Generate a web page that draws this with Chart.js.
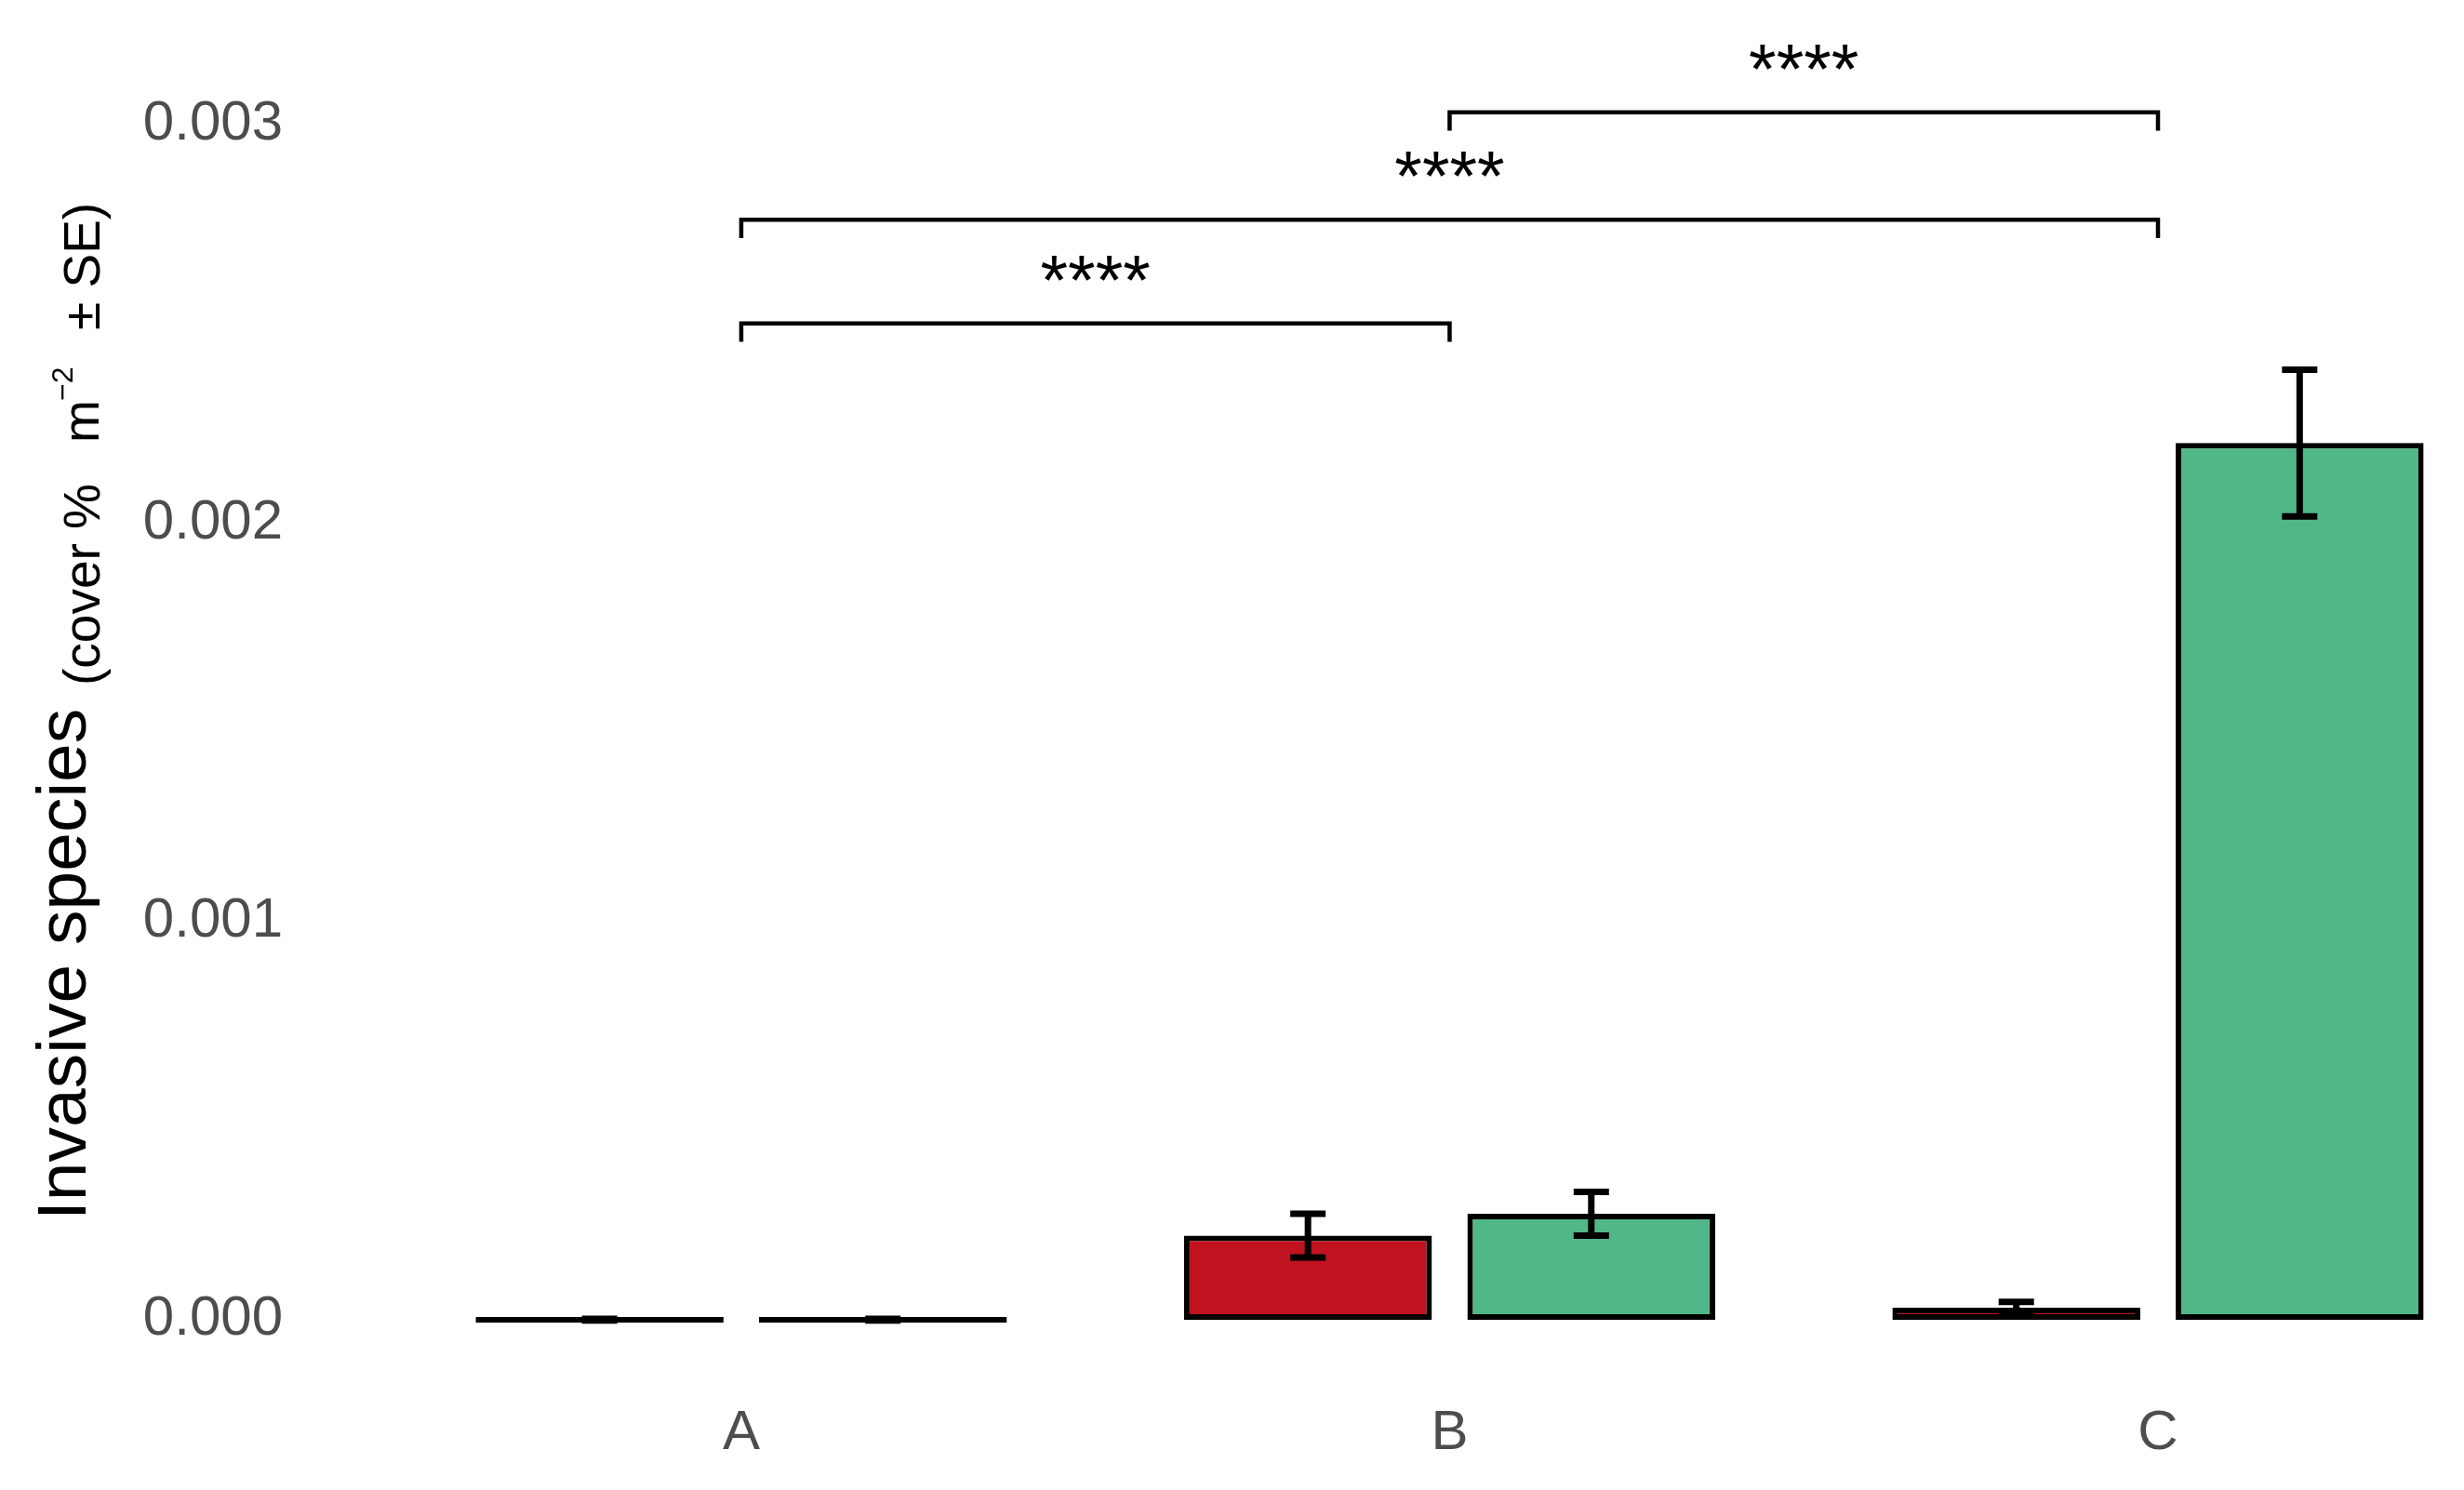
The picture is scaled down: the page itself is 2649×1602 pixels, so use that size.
<!DOCTYPE html>
<html>
<head>
<meta charset="utf-8">
<title>Invasive species cover</title>
<script src="https://cdn.jsdelivr.net/npm/chart.js@4.4.1/dist/chart.umd.min.js"></script>
<style>
  html, body { margin: 0; padding: 0; background: #fff; }
  canvas { display: block; }
</style>
</head>
<body>
<canvas id="chart" width="2649" height="1602"></canvas>
<script>
// data
const categories = ['A', 'B', 'C'];
const redMeans = [0, 0.000211, 0.00003];
const redSE = [0.000002, 0.000055, 0.000015];
const greenMeans = [0, 0.000266, 0.0022];
const greenSE = [0.000002, 0.000055, 0.000184];
const yTicks = [0, 0.001, 0.002, 0.003];

// significance brackets
const bracketFrom = ['A', 'A', 'B'];
const bracketTo = ['B', 'C', 'C'];
const bracketHeights = [0.0025, 0.00276, 0.00303];
const bracketLabels = ['****', '****', '****'];
const bracketTip = 0.000046;

const FONT = "'Liberation Sans', Arial, Helvetica, sans-serif";
const seByDataset = [redSE, greenSE];

function points(means) {
  return means.map((m, i) => ({ x: i + 1, y: m }));
}

// no automatic label padding, the plot area is set by the layout below
function noPadding(axis) {
  axis.paddingTop = 0;
  axis.paddingBottom = 0;
  axis.paddingLeft = 0;
  axis.paddingRight = 0;
}

// error bars drawn from the library's scales
const errorBars = {
  id: 'errorBars',
  afterDatasetsDraw(chart) {
    const ctx = chart.ctx;
    const yScale = chart.scales.y;
    ctx.save();
    ctx.strokeStyle = '#000';
    ctx.lineWidth = 7;
    ctx.lineCap = 'butt';
    chart.data.datasets.forEach((ds, di) => {
      const meta = chart.getDatasetMeta(di);
      meta.data.forEach((bar, i) => {
        const m = ds.data[i].y;
        const se = seByDataset[di][i];
        const top = yScale.getPixelForValue(m + se);
        const bot = yScale.getPixelForValue(m - se);
        const x = bar.x;
        ctx.beginPath();
        ctx.moveTo(x, top);
        ctx.lineTo(x, bot);
        ctx.moveTo(x - 19, top);
        ctx.lineTo(x + 19, top);
        ctx.moveTo(x - 19, bot);
        ctx.lineTo(x + 19, bot);
        ctx.stroke();
      });
    });
    ctx.restore();
  }
};

const brackets = {
  id: 'brackets',
  afterDatasetsDraw(chart) {
    const ctx = chart.ctx;
    const xScale = chart.scales.x;
    const yScale = chart.scales.y;
    ctx.save();
    ctx.strokeStyle = '#000';
    ctx.fillStyle = '#000';
    ctx.lineWidth = 4.5;
    ctx.font = '76px ' + FONT;
    ctx.textAlign = 'center';
    ctx.textBaseline = 'alphabetic';
    bracketHeights.forEach((h, i) => {
      const x1 = xScale.getPixelForValue(categories.indexOf(bracketFrom[i]) + 1);
      const x2 = xScale.getPixelForValue(categories.indexOf(bracketTo[i]) + 1);
      const yb = yScale.getPixelForValue(h);
      const yt = yScale.getPixelForValue(h - bracketTip);
      ctx.beginPath();
      ctx.moveTo(x1, yt);
      ctx.lineTo(x1, yb);
      ctx.lineTo(x2, yb);
      ctx.lineTo(x2, yt);
      ctx.stroke();
      ctx.fillText(bracketLabels[i], (x1 + x2) / 2, yb - 21);
    });
    ctx.restore();
  }
};

// rotated y title with subscript / superscript parts
const yTitle = {
  id: 'yTitle',
  afterDraw(chart) {
    const ctx = chart.ctx;
    ctx.save();
    ctx.rotate(-Math.PI / 2);
    ctx.fillStyle = '#000';
    ctx.textAlign = 'left';
    ctx.textBaseline = 'alphabetic';
    ctx.font = '75px ' + FONT;
    ctx.fillText('Invasive species', -1312, 92);
    ctx.font = '55px ' + FONT;
    ctx.fillText('(cover %', -737, 107);
    ctx.fillText('m', -476, 106);
    ctx.fillText('\u00B1 SE)', -355, 107);
    ctx.font = '32px ' + FONT;
    ctx.fillText('\u22122', -431, 78);
    ctx.restore();
  }
};

new Chart(document.getElementById('chart'), {
  type: 'bar',
  data: {
    datasets: [
      {
        label: 'red',
        data: points(redMeans),
        backgroundColor: '#C1121F',
        borderColor: '#000',
        borderWidth: 6,
        borderSkipped: false,
        minBarLength: 6
      },
      {
        label: 'green',
        data: points(greenMeans),
        backgroundColor: '#52B788',
        borderColor: '#000',
        borderWidth: 6,
        borderSkipped: false,
        minBarLength: 6
      }
    ]
  },
  options: {
    responsive: false,
    animation: false,
    devicePixelRatio: 1,
    categoryPercentage: 0.8,
    barPercentage: 0.875,
    layout: { padding: { left: 10, right: 0, top: 5, bottom: 0 } },
    plugins: {
      legend: { display: false },
      tooltip: { enabled: false }
    },
    scales: {
      x: {
        type: 'linear',
        offset: false,
        min: 0.4,
        max: 3.432,
        afterBuildTicks: (axis) => {
          axis.ticks = categories.map((c, i) => ({ value: i + 1 }));
        },
        afterFit: (axis) => {
          axis.height = 114.5;
          noPadding(axis);
        },
        ticks: {
          callback: (v) => categories[v - 1],
          font: { family: FONT, size: 60 },
          color: '#4D4D4D',
          padding: 18,
          maxRotation: 0,
          autoSkip: false
        },
        grid: { display: false, drawTicks: false, offset: false },
        border: { display: false }
      },
      y: {
        min: -0.00016,
        max: 0.0033,
        afterBuildTicks: (axis) => {
          axis.ticks = yTicks.map(v => ({ value: v }));
        },
        afterFit: (axis) => {
          axis.width = 330;
          noPadding(axis);
        },
        ticks: {
          callback: (v) => v.toFixed(3),
          font: { family: FONT, size: 60 },
          color: '#4D4D4D',
          padding: 36
        },
        grid: { display: false, drawTicks: false },
        border: { display: false }
      }
    }
  },
  plugins: [errorBars, brackets, yTitle]
});
</script>
</body>
</html>
